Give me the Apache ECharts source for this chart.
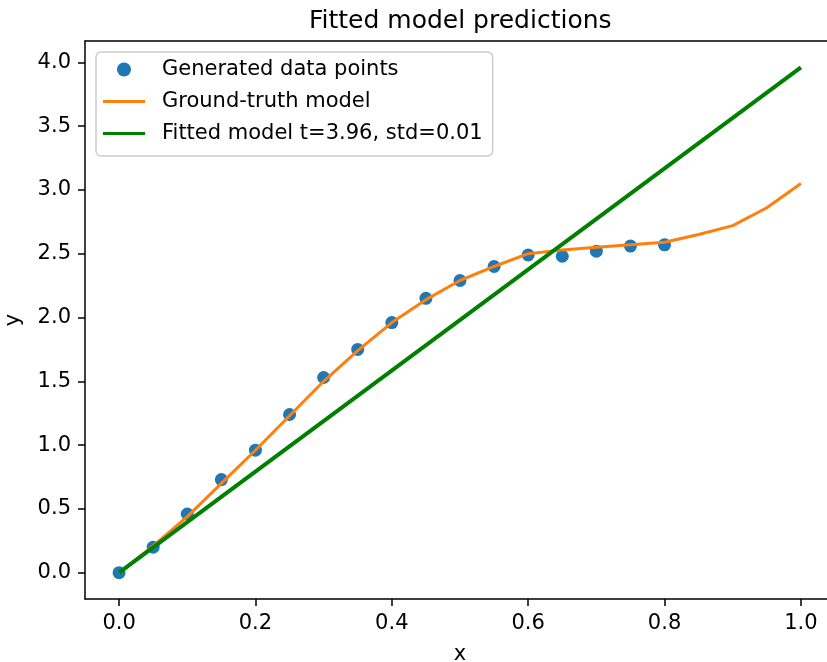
<!DOCTYPE html>
<html>
<head>
<meta charset="utf-8">
<script src="https://cdn.jsdelivr.net/npm/echarts@6/dist/echarts.min.js"></script>
<style>
html,body{margin:0;padding:0;background:#fff;}
#chart{width:827px;height:662px;}
</style>
</head>
<body>
<div id="chart"></div>
<script>
// Data
const pointX = [0.00, 0.05, 0.10, 0.15, 0.20, 0.25, 0.30, 0.35, 0.40, 0.45, 0.50, 0.55, 0.60, 0.65, 0.70, 0.75, 0.80];
const pointY = [0.00, 0.20, 0.46, 0.73, 0.96, 1.24, 1.53, 1.75, 1.96, 2.15, 2.29, 2.40, 2.49, 2.48, 2.52, 2.56, 2.57];
const truthX = [0.00, 0.05, 0.10, 0.15, 0.20, 0.25, 0.30, 0.35, 0.40, 0.45, 0.50, 0.55, 0.60, 0.65, 0.70, 0.75, 0.80, 0.85, 0.90, 0.95, 1.00];
const truthY = [0.00, 0.21, 0.44, 0.70, 0.96, 1.23, 1.50, 1.74, 1.96, 2.14, 2.29, 2.40, 2.50, 2.53, 2.55, 2.57, 2.59, 2.65, 2.72, 2.86, 3.05];
const fitX = [0.0, 1.0];
const fitY = [0.0, 3.96];
const xTicks = [0.0, 0.2, 0.4, 0.6, 0.8, 1.0];
const yTicks = [0.0, 0.5, 1.0, 1.5, 2.0, 2.5, 3.0, 3.5, 4.0];
const seriesNames = ['Generated data points', 'Ground-truth model', 'Fitted model t=3.96, std=0.01'];
const titleText = 'Fitted model predictions';

const zip = (a, b) => a.map((v, i) => [v, b[i]]);
const FONT = 'DejaVu Sans';
const LINE_ICON = 'path://M0,0 H42 V3 H0 Z';
const chart = echarts.init(document.getElementById('chart'), null, {renderer: 'canvas'});

const X_MIN = -0.05, X_MAX = 1.05, Y_MIN = -0.206, Y_MAX = 4.167;

const axisCommon = {
  type: 'value',
  splitLine: {show: false},
  axisLine: {show: true, onZero: false, lineStyle: {color: '#000', width: 1.5}},
  axisTick: {show: true, inside: false, length: 7, lineStyle: {color: '#000', width: 1.5}},
  nameTextStyle: {fontFamily: FONT, fontSize: 21, color: '#000'}
};

chart.setOption({
  animation: false,
  backgroundColor: '#fff',
  title: {
    text: titleText,
    left: 304,
    top: 4,
    textStyle: {fontFamily: FONT, fontSize: 25, fontWeight: 'normal', color: '#000'}
  },
  grid: {
    left: 85, top: 41, width: 750, height: 558,
    outerBoundsMode: 'none',
    containLabel: false,
    show: false
  },
  legend: {
    orient: 'vertical',
    left: 96, top: 52,
    padding: [7, 10, 12, 7],
    itemGap: 11,
    itemWidth: 42,
    itemHeight: 14,
    symbolKeepAspect: true,
    backgroundColor: 'rgba(255,255,255,0.8)',
    borderColor: '#cccccc',
    borderWidth: 1.5,
    borderRadius: 5,
    textStyle: {fontFamily: FONT, fontSize: 21, color: '#000', padding: [0, 0, 0, 12]},
    data: [
      {name: seriesNames[0], icon: 'circle'},
      {name: seriesNames[1], icon: LINE_ICON},
      {name: seriesNames[2], icon: LINE_ICON}
    ]
  },
  xAxis: [
    Object.assign({}, axisCommon, {
      min: X_MIN, max: X_MAX,
      name: 'x', nameLocation: 'middle', nameGap: 45,
      axisTick: Object.assign({}, axisCommon.axisTick, {customValues: xTicks}),
      axisLabel: {customValues: xTicks, fontFamily: FONT, fontSize: 21, color: '#000', margin: 14,
        formatter: v => Number(v).toFixed(1)}
    }),
    {
      type: 'value', position: 'top', min: X_MIN, max: X_MAX,
      splitLine: {show: false}, axisTick: {show: false}, axisLabel: {show: false},
      axisLine: {show: true, onZero: false, lineStyle: {color: '#000', width: 1.5}}
    }
  ],
  yAxis: Object.assign({}, axisCommon, {
    min: Y_MIN, max: Y_MAX,
    name: 'y', nameLocation: 'middle', nameGap: 61, nameRotate: 90,
    axisTick: Object.assign({}, axisCommon.axisTick, {customValues: yTicks}),
    axisLabel: {customValues: yTicks, fontFamily: FONT, fontSize: 21, color: '#000', margin: 14,
      formatter: v => Number(v).toFixed(1)}
  }),
  series: [
    {
      name: seriesNames[0], type: 'scatter', z: 1,
      symbol: 'circle', symbolSize: 13,
      itemStyle: {color: '#1f77b4', opacity: 1},
      data: zip(pointX, pointY)
    },
    {
      name: seriesNames[1], type: 'line', z: 2,
      showSymbol: false, symbol: 'none',
      lineStyle: {color: '#ff7f0e', width: 3},
      itemStyle: {color: '#ff7f0e'},
      data: zip(truthX, truthY)
    },
    {
      name: seriesNames[2], type: 'line', z: 3,
      showSymbol: false, symbol: 'none',
      lineStyle: {color: '#008000', width: 4},
      itemStyle: {color: '#008000'},
      data: zip(fitX, fitY)
    }
  ]
});
</script>
</body>
</html>
